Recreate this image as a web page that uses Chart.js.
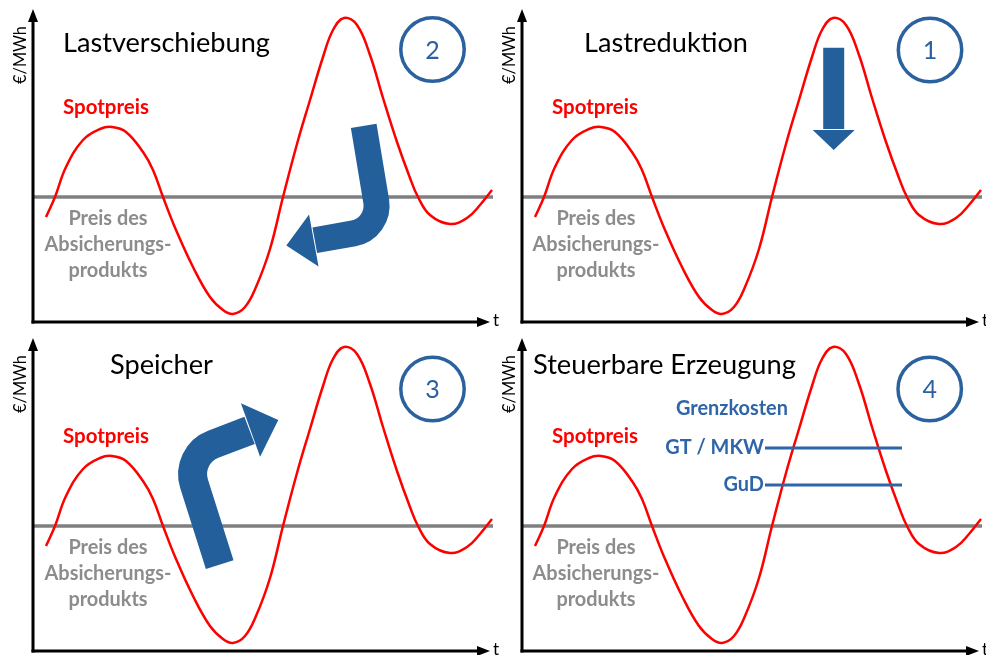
<!DOCTYPE html>
<html><head><meta charset="utf-8">
<script src="https://cdn.jsdelivr.net/npm/chart.js@4.4.1/dist/chart.umd.min.js"></script>
<style>
html,body{margin:0;padding:0;background:#fff;overflow:hidden;}
#wrap{position:relative;width:986px;height:655px;overflow:hidden;}
.panel{position:absolute;width:505px;height:330px;}
</style></head><body>
<div id="wrap">
<div class="panel" style="left:0;top:0"><canvas id="c1" width="505" height="330"></canvas></div>
<div class="panel" style="left:489px;top:0"><canvas id="c2" width="505" height="330"></canvas></div>
<div class="panel" style="left:0;top:329px"><canvas id="c3" width="505" height="330"></canvas></div>
<div class="panel" style="left:489px;top:329px"><canvas id="c4" width="505" height="330"></canvas></div>
</div>
<script>
// ---- data (time t, price in €/MWh relative to hedge price) ----
const spotT     = [13, 22, 33, 50, 67, 79, 93, 110, 120, 130, 143, 160, 177, 190, 200, 212, 223, 237, 250, 264, 277, 290, 300, 311, 324, 337, 350, 364, 377, 385, 397, 417, 434, 447, 459];
const spotPrice = [-20, 0, 30, 57, 68, 70, 65, 45, 27, 0, -33, -70, -100, -113, -117, -110, -90, -52, 0, 53, 97, 140, 167, 179, 172, 142, 99, 55, 19, 0, -18, -27, -21, -8, 7];
const hedgeT     = [0, 460];
const hedgePrice = [0, 0];
const costT      = [243, 380];
const gtPrice    = [78, 78];
const gudPrice   = [41, 41];
const titles  = ['Lastverschiebung', 'Lastreduktion', 'Speicher', 'Steuerbare Erzeugung'];
const numbers = ['2', '1', '3', '4'];

const RED = '#ff0000', GREY = '#7f7f7f', GREYTXT = '#8c8c8c', ABLUE = '#235f9a', CBLUE = '#2c619f', TBLUE = '#2e65a8';
const FONT = 'Lato, "Open Sans", sans-serif';

function pts(xs, ys){ return xs.map((x,i)=>({x:x, y:ys[i]})); }

// layout of each panel (local pixel positions for texts, data units for arrows)
const layout = [
 {canvas:'c1', titleX:63, titleW:207, titleBase:52, circ:[432.5,49.5], textCx:108,
  arrow:{start:[330.7,71.2], corner:[347.7,-31.5], base:[280.8,-43.5], tip:[253.3,-48.5], w:26, hw:26.5, r:28}},
 {canvas:'c2', titleX:95, titleW:164, titleBase:52, circ:[441,50], textCx:107,
  arrow:{start:[311.7,149.3], base:[311.7,67], tip:[311.7,47], w:21, hw:21}},
 {canvas:'c3', titleX:110, titleW:103, titleBase:45, circ:[432.5,60], textCx:108,
  arrow:{start:[186.7,-38.7], corner:[152,71], base:[217.5,96], tip:[245.3,106], w:29, hw:28.3, r:32}},
 {canvas:'c4', titleX:44, titleW:263, titleBase:45, circ:[440.7,60], textCx:107, costs:true}
];

function fitSize(ctx, text, weight, w){
  ctx.font = weight + ' 100px ' + FONT;
  return 100 * w / ctx.measureText(text).width;
}
function setFont(ctx, weight, size){ ctx.font = weight + ' ' + size.toFixed(2) + 'px ' + FONT; }

function makeDecor(L, idx){
  return {
    id:'decor'+idx,
    afterDatasetsDraw(chart){
      const ctx = chart.ctx, xs = chart.scales.x, ys = chart.scales.y;
      const X = v => xs.getPixelForValue(v), Y = v => ys.getPixelForValue(v);
      ctx.save();
      // axes
      const x0 = X(0), yb = Y(-125);
      ctx.strokeStyle = '#000'; ctx.fillStyle = '#000'; ctx.lineWidth = 3; ctx.lineCap = 'butt';
      ctx.beginPath(); ctx.moveTo(x0, yb + 1.5); ctx.lineTo(x0, Y(176)); ctx.stroke();
      ctx.beginPath(); ctx.moveTo(x0 - 1.5, yb); ctx.lineTo(X(446), yb); ctx.stroke();
      ctx.beginPath(); ctx.moveTo(x0, Y(188)); ctx.lineTo(x0 - 5, Y(175)); ctx.lineTo(x0 + 5, Y(175)); ctx.closePath(); ctx.fill();
      ctx.beginPath(); ctx.moveTo(X(457), yb); ctx.lineTo(X(444), yb - 5); ctx.lineTo(X(444), yb + 5); ctx.closePath(); ctx.fill();
      // axis labels
      ctx.textBaseline = 'alphabetic';
      setFont(ctx, '400', 17); ctx.textAlign = 'left';
      ctx.fillText('t', X(460), 326);
      ctx.save();
      ctx.translate(26, 55); ctx.rotate(-Math.PI/2);
      setFont(ctx, '400', fitSize(ctx, '€/MWh', '400', 58));
      ctx.textAlign = 'center'; ctx.fillText('€/MWh', 0, 0);
      ctx.restore();
      // title
      ctx.textAlign = 'left'; ctx.fillStyle = '#000';
      setFont(ctx, '400', fitSize(ctx, titles[idx], '400', L.titleW));
      ctx.fillText(titles[idx], L.titleX, L.titleBase);
      // spot label
      ctx.fillStyle = RED;
      setFont(ctx, '700', fitSize(ctx, 'Spotpreis', '700', 86));
      ctx.fillText('Spotpreis', 63, 114);
      // hedge label
      ctx.fillStyle = GREYTXT; ctx.textAlign = 'center';
      setFont(ctx, '700', fitSize(ctx, 'Absicherungs-', '700', 127));
      ctx.fillText('Preis des', L.textCx, 225);
      ctx.fillText('Absicherungs-', L.textCx, 251);
      ctx.fillText('produkts', L.textCx, 277);
      // circled number
      ctx.strokeStyle = CBLUE; ctx.lineWidth = 3.5;
      ctx.beginPath(); ctx.arc(L.circ[0], L.circ[1], 31.7, 0, Math.PI*2); ctx.stroke();
      ctx.fillStyle = CBLUE; setFont(ctx, '400', 25); ctx.textAlign = 'center'; ctx.textBaseline = 'middle';
      ctx.fillText(numbers[idx], L.circ[0], L.circ[1] + 1);
      ctx.textBaseline = 'alphabetic';
      // arrow
      if (L.arrow){
        const a = L.arrow;
        const s = [X(a.start[0]), Y(a.start[1])], b = [X(a.base[0]), Y(a.base[1])], t = [X(a.tip[0]), Y(a.tip[1])];
        ctx.strokeStyle = ABLUE; ctx.fillStyle = ABLUE; ctx.lineWidth = a.w; ctx.lineCap = 'butt'; ctx.lineJoin = 'round';
        ctx.beginPath(); ctx.moveTo(s[0], s[1]);
        if (a.corner){ const c = [X(a.corner[0]), Y(a.corner[1])]; ctx.arcTo(c[0], c[1], b[0], b[1], a.r); }
        const dx = t[0]-b[0], dy = t[1]-b[1], len = Math.hypot(dx, dy);
        ctx.lineTo(b[0] - dx/len*1, b[1] - dy/len*1);
        ctx.stroke();
        const px = -dy/len*a.hw, py = dx/len*a.hw;
        ctx.beginPath(); ctx.moveTo(t[0], t[1]); ctx.lineTo(b[0]+px, b[1]+py); ctx.lineTo(b[0]-px, b[1]-py); ctx.closePath(); ctx.fill();
      }
      // marginal cost labels
      if (L.costs){
        ctx.fillStyle = TBLUE; ctx.textAlign = 'left';
        setFont(ctx, '700', fitSize(ctx, 'Grenzkosten', '700', 112));
        ctx.fillText('Grenzkosten', 187, 86);
        ctx.textAlign = 'right';
        ctx.fillText('GT / MKW', X(costT[0]) - 1, Y(gtPrice[0]) + 6);
        ctx.fillText('GuD', X(costT[0]) - 1, Y(gudPrice[0]) + 6);
      }
      ctx.restore();
    }
  };
}

layout.forEach((L, idx) => {
  const datasets = [];
  if (L.costs){
    datasets.push({data: pts(costT, gtPrice), borderColor: TBLUE, borderWidth: 3, pointRadius: 0, tension: 0});
    datasets.push({data: pts(costT, gudPrice), borderColor: TBLUE, borderWidth: 3, pointRadius: 0, tension: 0});
  }
  datasets.push({data: pts(spotT, spotPrice), borderColor: RED, borderWidth: 2.5, pointRadius: 0, tension: 0.4, borderJoinStyle: 'round'});
  datasets.push({data: pts(hedgeT, hedgePrice), borderColor: GREY, borderWidth: 3.5, pointRadius: 0, tension: 0});
  new Chart(document.getElementById(L.canvas), {
    type: 'line',
    data: {datasets: datasets},
    options: {
      responsive: false, maintainAspectRatio: false, animation: false,
      layout: {padding: 0},
      parsing: false,
      plugins: {legend: {display: false}, tooltip: {enabled: false}},
      scales: {
        x: {type: 'linear', min: -33, max: 472, display: false},
        y: {type: 'linear', min: -133, max: 197, display: false}
      }
    },
    plugins: [makeDecor(L, idx)]
  });
});
</script>
</body></html>
